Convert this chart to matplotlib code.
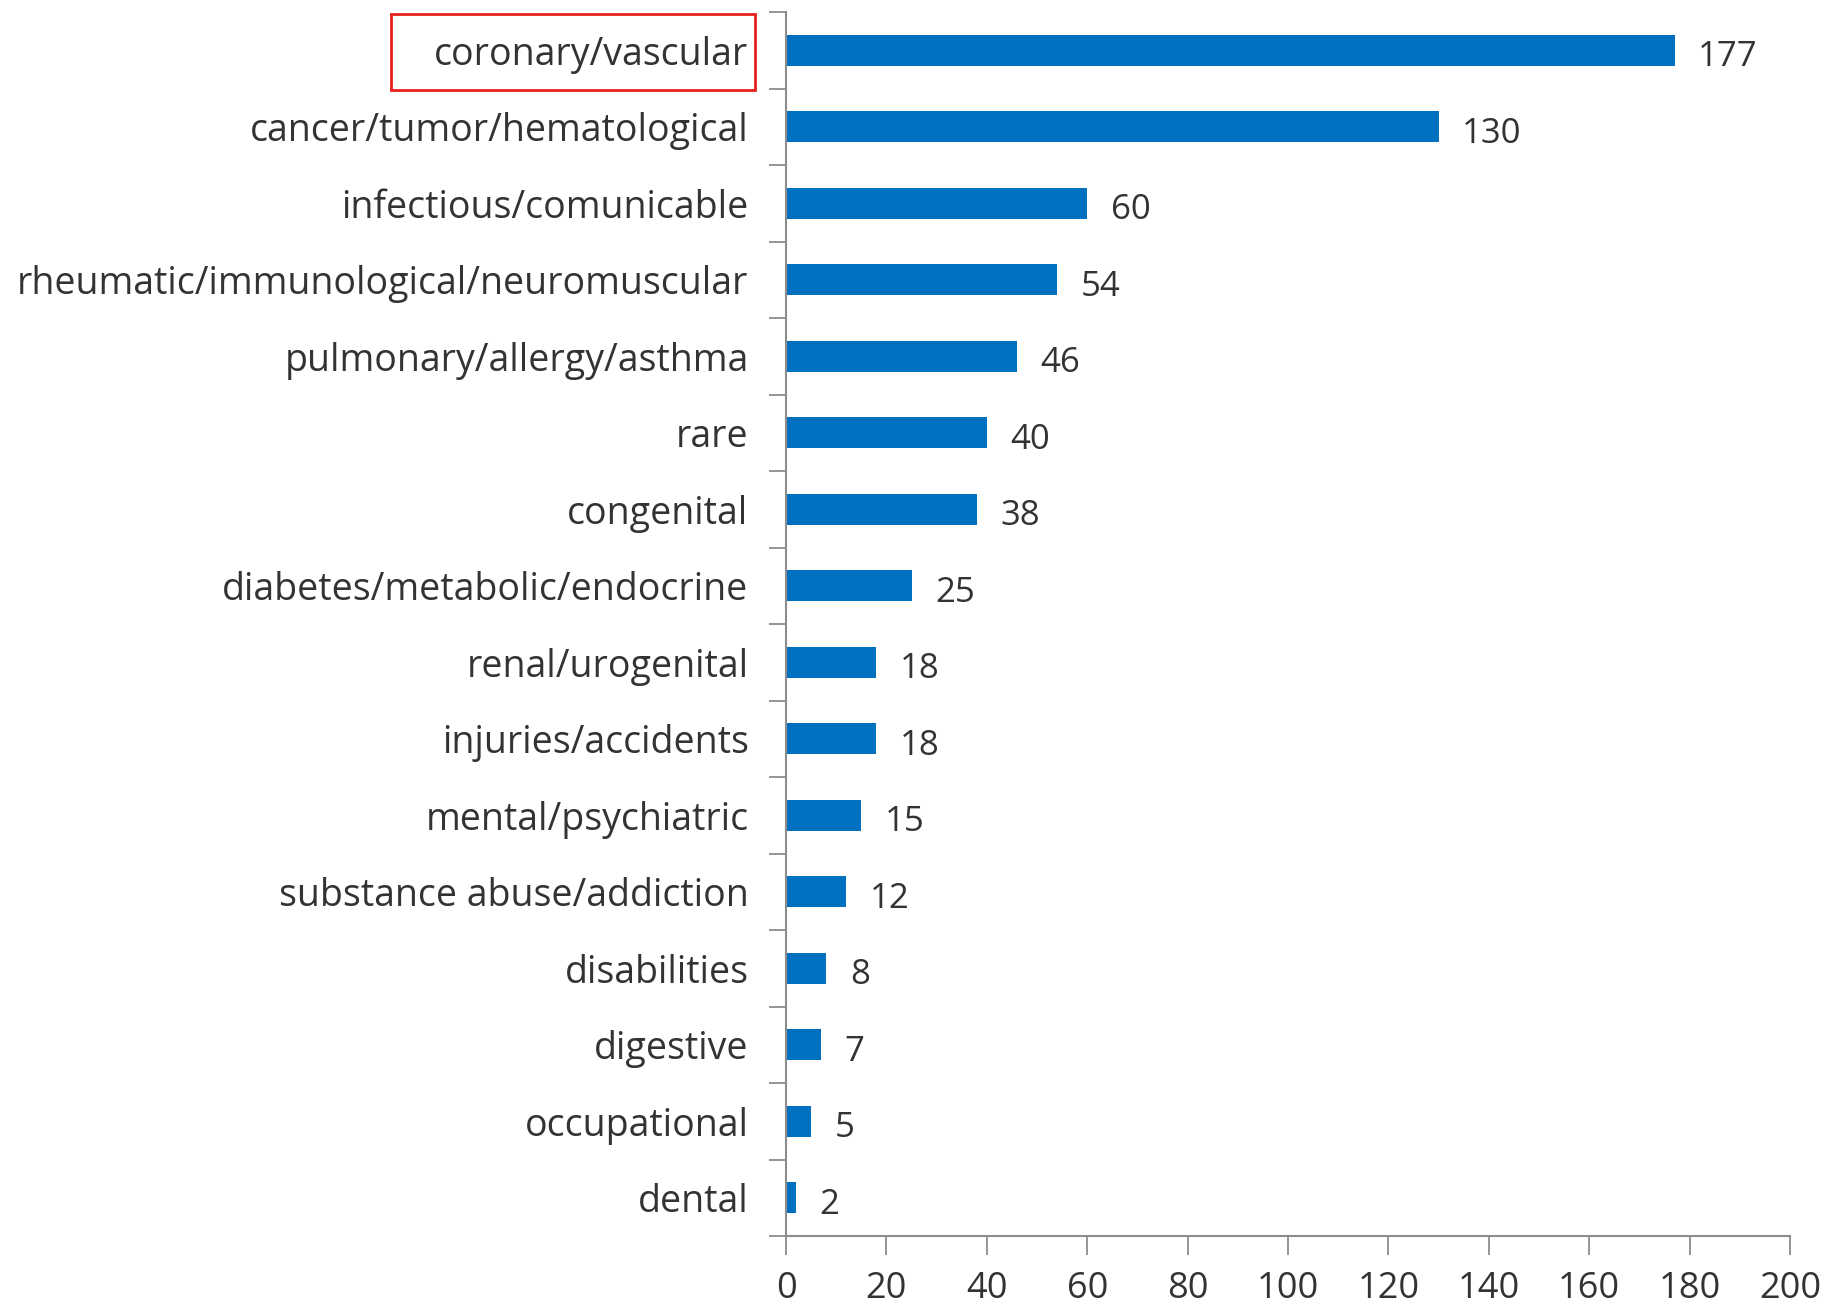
import matplotlib
matplotlib.use("Agg")
import matplotlib.pyplot as plt
from matplotlib.patches import Rectangle

# categories, top to bottom
categories = [
    "coronary/vascular",
    "cancer/tumor/hematological",
    "infectious/comunicable",
    "rheumatic/immunological/neuromuscular",
    "pulmonary/allergy/asthma",
    "rare",
    "congenital",
    "diabetes/metabolic/endocrine",
    "renal/urogenital",
    "injuries/accidents",
    "mental/psychiatric",
    "substance abuse/addiction",
    "disabilities",
    "digestive",
    "occupational",
    "dental",
]
counts = [177, 130, 60, 54, 46, 40, 38, 25, 18, 18, 15, 12, 8, 7, 5, 2]
x_ticks = [0, 20, 40, 60, 80, 100, 120, 140, 160, 180, 200]

plt.rcParams['font.family'] = ['Open Sans', 'DejaVu Sans']
text_color = '#333333'
axis_color = '#8c8c8c'

fig = plt.figure(figsize=(18.35, 13.11), dpi=100)
ax = fig.add_axes([786 / 1835, 1 - 1236 / 1311, (1790 - 786) / 1835, (1236 - 12) / 1311])

y = list(range(len(categories)))
ax.barh(y, counts, height=0.4, color='#0070C0')

# value labels just right of each bar, sitting a little low
for yi, v in zip(y, counts):
    ax.annotate(str(v), (v, yi), xytext=(17, -5), textcoords='offset points',
                va='center', ha='left', fontsize=25, color=text_color)

ax.set_xlim(0, 200)
ax.set_ylim(len(categories) - 0.5, -0.5)

ax.set_yticks(y)
ax.set_yticklabels(categories, fontsize=27, color=text_color)
ax.set_yticks([i - 0.5 for i in range(len(categories) + 1)], minor=True)
ax.tick_params(axis='y', which='major', length=0, pad=27)
ax.tick_params(axis='y', which='minor', length=12, color=axis_color, width=1.3)

ax.set_xticks(x_ticks)
ax.set_xticklabels([str(t) for t in x_ticks], fontsize=26, color=text_color)
ax.tick_params(axis='x', length=14, color=axis_color, width=1.3, pad=11)

for side in ['top', 'right']:
    ax.spines[side].set_visible(False)
for side in ['left', 'bottom']:
    ax.spines[side].set_color(axis_color)
    ax.spines[side].set_linewidth(1.5)

# red box around the first label
fig.patches.append(Rectangle((391 / 1835, 1 - 90 / 1311), (755 - 391) / 1835, 76 / 1311,
                             transform=fig.transFigure, fill=False, edgecolor='#e8201c', linewidth=2))

fig.savefig('out.png', dpi=100)
